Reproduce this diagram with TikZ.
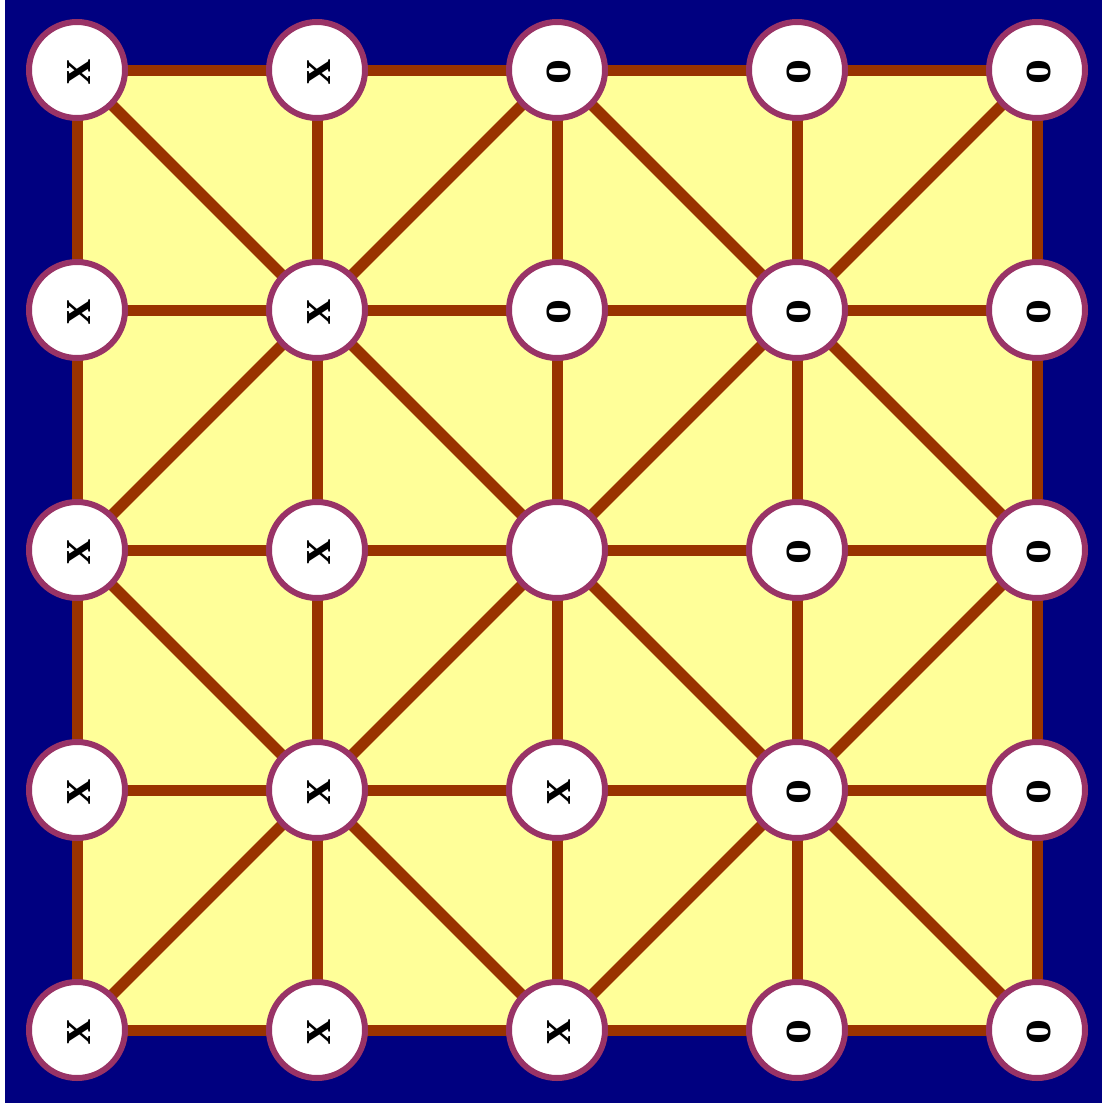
\documentclass[tikz,border=0pt]{standalone}
\usepackage{fontspec}
\setmainfont{Liberation Serif}
\definecolor{bgnavy}{HTML}{000080}
\definecolor{boardyellow}{HTML}{FFFF99}
\definecolor{linebrown}{HTML}{993300}
\definecolor{ringcol}{HTML}{993366}
\pgfdeclarelayer{background}
\pgfsetlayers{background,main}
\newcommand{\shiftedglyph}[1]{\raisebox{-2.4pt}[\height][\depth]{\hphantom{#1}\llap{#1\kern1.5pt}}}
\begin{document}
\begin{tikzpicture}[x=1pt,y=-1pt,
  spot/.style={circle,draw=ringcol,line width=6pt,fill=white,minimum size=96pt,inner sep=0pt,
    rotate=90,font=\fontsize{50}{50}\selectfont\bfseries},
  link/.style={draw=linebrown,line width=11pt}]
\useasboundingbox (0,0) rectangle (1102,1103);
% nodes
\foreach \r/\labs in {0/{x,x,o,o,o},1/{x,x,o,o,o},2/{x,x,{},o,o},3/{x,x,x,o,o},4/{x,x,x,o,o}}{
  \foreach \t [count=\c from 0] in \labs {
    \node[spot] (n\c\r) at ({77+240*\c},{70+240*\r}) {\shiftedglyph{\t}};
  }
}
\begin{pgfonlayer}{background}
\fill[white] (0,0) rectangle (1102,1103);
\fill[bgnavy] (5,0) rectangle (1102,1103);
\fill[boardyellow] (n00.center) rectangle (n44.center);
% horizontal and vertical
\foreach \i in {0,...,4}{
  \draw[link] (n0\i.center) -- (n1\i.center) -- (n2\i.center) -- (n3\i.center) -- (n4\i.center);
  \draw[link] (n\i0.center) -- (n\i1.center) -- (n\i2.center) -- (n\i3.center) -- (n\i4.center);
}
% diagonals
\draw[link] (n00.center) -- (n11.center) -- (n22.center) -- (n33.center) -- (n44.center);
\draw[link] (n40.center) -- (n31.center) -- (n22.center) -- (n13.center) -- (n04.center);
\draw[link] (n20.center) -- (n11.center) -- (n02.center);
\draw[link] (n20.center) -- (n31.center) -- (n42.center);
\draw[link] (n02.center) -- (n13.center) -- (n24.center);
\draw[link] (n42.center) -- (n33.center) -- (n24.center);
\end{pgfonlayer}
\end{tikzpicture}
\end{document}
